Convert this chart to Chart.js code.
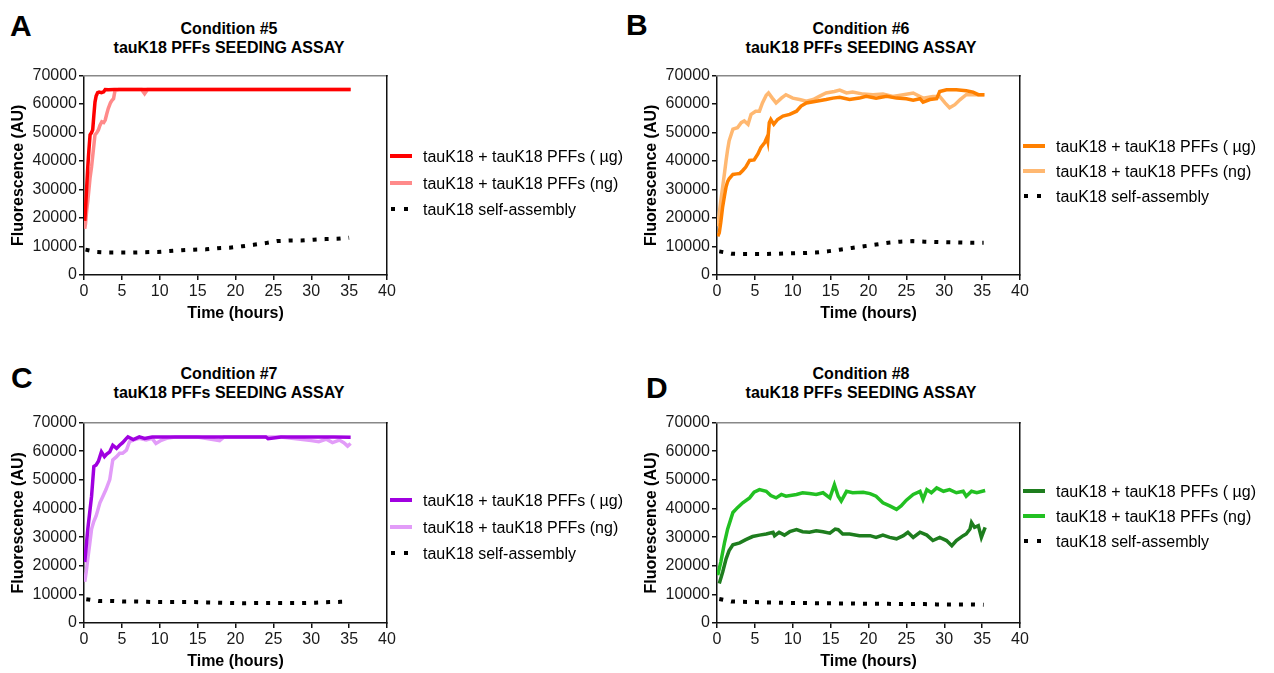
<!DOCTYPE html>
<html><head><meta charset="utf-8">
<script src="https://cdn.jsdelivr.net/npm/chart.js@4.4.1/dist/chart.umd.min.js"></script>
<style>
html,body{margin:0;padding:0;background:#fff;overflow:hidden;width:1274px;height:673px;font-family:"Liberation Sans",Arial,sans-serif;color:#000;}
canvas{position:absolute;}
.letter{position:absolute;font-weight:bold;font-size:30px;line-height:30px;}
.title{position:absolute;width:400px;text-align:center;font-weight:bold;font-size:16px;line-height:19px;}
.row{position:absolute;height:1px;white-space:nowrap;}
.sw{position:absolute;width:22px;height:4px;top:-2px;left:0;}
.dot{position:absolute;width:4px;height:4px;top:-2px;background:#000;}
.txt{position:absolute;left:33px;top:-9.5px;font-size:16px;line-height:20px;}
</style></head>
<body>
<canvas id="cA" width="399" height="259" style="left:0px;top:64px"></canvas>
<canvas id="cB" width="399" height="259" style="left:633px;top:64px"></canvas>
<canvas id="cC" width="399" height="260" style="left:0px;top:411px"></canvas>
<canvas id="cD" width="399" height="260" style="left:633px;top:411px"></canvas>
<div id="overlay"></div>
<script>
// ---------- data ----------
const panelLetters = ['A','B','C','D'];
const conditionTitles = ['Condition #5','Condition #6','Condition #7','Condition #8'];
const assayTitle = 'tauK18 PFFs SEEDING ASSAY';
const seriesLabels = ['tauK18 + tauK18 PFFs ( \u00b5g)','tauK18 + tauK18 PFFs (ng)','tauK18 self-assembly'];
const xTitle = 'Time (hours)';
const yTitle = 'Fluorescence (AU)';

// Panel A (Condition #5)
const tA_ug = [0.1,0.2,0.35,0.5,0.65,0.8,1.0,1.15,1.3,1.45,1.6,1.8,2.0,2.3,2.6,2.8,3.2,4,6,8,10,15,20,25,30,35.2];
const vA_ug = [19000,23000,30700,38000,44000,49200,50000,51000,56000,60700,62800,64000,64200,64000,64300,65100,65000,65100,65100,65100,65100,65100,65100,65100,65100,65100];
const tA_ng = [0.1,0.2,0.35,0.5,0.65,0.8,1.0,1.2,1.45,1.7,1.9,2.1,2.35,2.6,2.8,3.0,3.2,3.5,3.7,3.9,4.1,4.6,6,7.6,8.0,8.4,10,15,20,25,30,35.2];
const vA_ng = [16200,18000,22500,26000,30000,34100,38000,43000,49200,50000,50900,52500,53800,53500,54400,56500,58400,60500,61300,61900,64800,65100,65100,65100,63600,65100,65100,65100,65100,65100,65100,65100];
const tA_bk = [0.2,1.7,3.2,5,6.5,8,9.7,11.3,12.9,14.5,16.1,17.6,19.2,20.9,22.4,24,25.5,27.2,28.7,30.3,31.9,33.4,35];
const vA_bk = [8900,8100,7900,7900,7900,8000,8100,8400,8700,8900,9000,9400,9600,10100,10600,11200,11900,12100,12100,12400,12600,12700,13100];

// Panel B (Condition #6)
const tB_ug = [0.1,0.3,0.5,0.75,1.0,1.2,1.4,1.6,2.1,2.6,3.0,3.4,3.8,4.3,4.9,5.4,5.8,6.3,6.6,6.7,6.9,7.1,7.5,8.0,8.7,9.6,10.5,11.1,11.8,13.1,14.4,15.3,16.2,17.5,18.8,19.7,21.0,22.4,23.7,25.0,25.9,26.8,27.2,28.1,29.0,29.4,30.3,31.6,32.9,33.8,34.5,35.3];
const vB_ug = [13600,14800,18500,24000,28000,31000,32800,33800,35300,35500,35600,36700,37900,40200,40400,42500,44800,46500,48300,47100,53500,54600,52900,54600,55800,56400,57500,59300,60400,61000,61600,62100,62400,61600,62100,62700,62100,62700,62100,61900,61400,61900,60700,61600,61900,64400,65000,65000,64700,64200,63300,63300];
const tB_ng = [0.1,0.3,0.5,0.75,1.0,1.2,1.4,1.6,2.1,2.7,3.2,3.6,4.1,4.5,5.1,5.6,6.0,6.5,6.8,7.3,7.8,8.5,9.1,10.0,10.9,11.8,12.7,13.5,14.4,15.5,16.2,17.1,17.9,19.3,20.6,21.9,23.2,24.6,25.9,27.2,28.5,29.4,30.1,30.7,31.4,32.1,32.9,34.3,35.3];
const vB_ng = [17100,21700,26000,31000,36000,40200,44000,47100,51200,51700,53500,54100,52900,56400,57500,57500,60400,63100,63900,62100,60400,62100,63300,62100,61600,61000,61600,62700,63900,64400,64900,63900,64200,63500,63300,63500,62700,63300,63900,62100,62700,62700,60400,58700,59800,61600,63300,63300,63300];
const tB_bk = [0.3,1.9,3.4,5,6.6,8.2,9.8,11.4,13,14.6,16.2,17.8,19.4,21,22.6,24.2,25.8,27.4,29,30.6,32.2,33.8,35.2];
const vB_bk = [8300,7500,7400,7400,7400,7500,7600,7700,7900,8300,8900,9500,10100,10700,11300,11700,11900,11700,11600,11500,11400,11300,11300];

// Panel C (Condition #7)
const tC_ug = [0.1,0.3,0.5,0.75,1.0,1.3,1.6,1.9,2.1,2.3,2.7,3.0,3.4,3.8,4.3,4.7,5.1,5.6,5.8,6.5,7.3,8.0,9,10,12,15,18,20,24,24.3,26,30,33,35.2];
const vC_ug = [21300,27000,32800,38500,44300,54700,55200,56500,58100,59800,58100,59000,59800,62100,61000,62100,63000,64500,65000,64100,65000,64500,65000,65000,65000,65000,65000,65000,65000,64400,65000,65000,65000,64900];
const tC_ng = [0.1,0.3,0.5,0.75,1.0,1.3,1.6,2.1,2.5,2.9,3.4,3.8,4.3,4.7,5.1,5.6,6.0,6.5,7.3,8.2,9.0,9.5,10.2,10.9,12,15,17.9,18.5,22,26,30,31,32,32.8,33.7,34.3,34.8,35.2];
const vC_ng = [14400,18000,22400,27500,32800,35500,37400,42000,44300,46600,50100,57000,58100,59300,59300,60400,63300,63900,64500,63900,64500,62700,63800,64500,65000,65000,63700,65000,65000,65000,63700,63300,64200,63000,63900,63000,61800,62700];
const tC_bk = [0.3,1.9,3.6,5.1,6.7,8.3,9.9,11.5,13,14.6,16.2,17.8,19.4,21,22.7,24.3,25.9,27.5,29,30.6,32.4,33.9,35.1];
const vC_bk = [8300,7700,7700,7500,7500,7400,7300,7300,7300,7300,7200,7100,7000,6900,7000,7000,7000,7000,7000,7100,7300,7400,7500];

// Panel D (Condition #8)
const tD_ug = [0.3,0.75,1.2,1.6,2.1,3.0,3.8,4.7,5.6,6.5,7.4,7.6,8.2,8.9,9.6,10.5,11.3,12.2,13.1,14.0,14.9,15.6,16.0,16.6,17.5,18.8,20.2,21.0,21.9,22.8,23.7,24.6,25.2,25.9,26.8,27.7,28.5,29.4,30.3,31.0,31.6,32.5,32.9,33.4,33.6,34.0,34.5,34.9,35.4];
const vD_ug = [13800,17800,22400,25300,27300,28000,29100,30200,30700,31100,31700,30500,31700,30700,31900,32600,31900,31700,32200,31900,31400,32800,32600,31100,31100,30500,30500,29900,30700,29900,29400,30500,31700,29900,31700,30700,28800,29900,28800,27000,28800,30500,31100,32800,35100,33400,34000,29900,33400];
const tD_ng = [0.1,0.5,1.0,1.4,2.1,2.7,3.4,4.3,4.9,5.6,6.5,7.1,7.8,8.5,9.1,10.5,11.3,12.2,13.1,14.0,14.9,15.5,16.0,16.4,17.1,17.9,19.3,20.2,21.0,21.9,22.8,23.7,24.3,25.0,25.9,26.8,27.2,27.7,28.3,29.0,29.9,30.7,31.6,32.5,32.9,33.6,34.3,35.4];
const vD_ng = [16700,21300,28200,32800,38600,40300,42000,43700,45700,46600,46000,44500,43700,44900,44300,44900,45500,45200,44900,45500,43700,48300,44300,42600,46000,45500,45700,45200,44300,42000,40900,39700,40900,42900,44900,46000,43200,46600,45500,47200,46000,46600,45500,46000,44300,46000,45500,46300];
const tD_bk = [0.3,1.9,3.4,5,6.6,8.2,9.8,11.4,13,14.6,16.2,17.8,19.4,21,22.6,24.2,25.8,27.4,29,30.6,32.2,33.8,35.2];
const vD_bk = [8400,7500,7400,7300,7200,7100,7000,7000,6900,6900,6800,6800,6700,6700,6700,6600,6600,6600,6500,6500,6500,6500,6400];

const xTicks = [0,5,10,15,20,25,30,35,40];
const yTicks = [0,10000,20000,30000,40000,50000,60000,70000];

const colorsA = ['#ff0000','#ff8a8a','#000000'];
const colorsB = ['#ff8000','#ffb871','#000000'];
const colorsC = ['#a000e0','#e29cf8','#000000'];
const colorsD = ['#1e7d1e','#22c022','#000000'];

// ---------- drawing ----------
const FONT = '"Liberation Sans", Arial, sans-serif';
Chart.defaults.font.family = FONT;

function pts(t, v) {
  const n = Math.min(t.length, v.length);
  const out = [];
  for (let i = 0; i < n; i++) out.push({x: t[i], y: v[i]});
  return out;
}

function makeChart(id, series, colors) {
  const datasets = series.map((s, i) => ({
    label: seriesLabels[i],
    data: pts(s[0], s[1]),
    borderColor: colors[i],
    backgroundColor: colors[i],
    borderWidth: i === 2 ? 4 : 3.5,
    borderDash: i === 2 ? [4, 8] : [],
    borderCapStyle: 'butt',
    borderJoinStyle: 'miter',
    pointRadius: 0,
    tension: 0,
    fill: false
  }));
  new Chart(document.getElementById(id), {
    type: 'line',
    data: {datasets},
    options: {
      responsive: false,
      animation: false,
      events: [],
      layout: {padding: {left: 5, top: 10, right: 12, bottom: 0}},
      plugins: {legend: {display: false}, title: {display: false}, tooltip: {enabled: false}},
      scales: {
        x: {
          type: 'linear', position: 'bottom', min: xTicks[0], max: xTicks[xTicks.length - 1],
          afterBuildTicks: a => { a.ticks = xTicks.map(v => ({value: v})); },
          ticks: {font: {size: 16}, color: '#1a1a1a', padding: 2, maxRotation: 0, autoSkip: false},
          grid: {drawOnChartArea: false, drawTicks: true, tickLength: 5, color: '#111', lineWidth: 1.5},
          border: {display: true, color: '#111', width: 1.5},
          title: {display: true, text: xTitle, font: {size: 16, weight: 'bold'}, color: '#000', padding: {top: 0, bottom: 0}},
          afterFit: a => { a.height = 48; }
        },
        y: {
          type: 'linear', position: 'left', min: yTicks[0], max: yTicks[yTicks.length - 1],
          afterBuildTicks: a => { a.ticks = yTicks.map(v => ({value: v})); },
          ticks: {font: {size: 16}, color: '#1a1a1a', padding: 2, callback: v => String(v)},
          grid: {drawOnChartArea: false, drawTicks: true, tickLength: 5, color: '#111', lineWidth: 1.5},
          border: {display: true, color: '#111', width: 1.5},
          title: {display: true, text: yTitle, font: {size: 16, weight: 'bold'}, color: '#000', padding: {top: 4, bottom: 4}},
          afterFit: a => { a.width = 79; }
        },
        x2: {
          type: 'linear', position: 'top', min: 0, max: 40,
          ticks: {display: false}, grid: {display: false, drawTicks: false},
          border: {display: true, color: '#888', width: 1.5},
          afterFit: a => { a.height = 0; }
        },
        y2: {
          type: 'linear', position: 'right', min: 0, max: 1,
          ticks: {display: false}, grid: {display: false, drawTicks: false},
          border: {display: true, color: '#111', width: 1.5},
          afterFit: a => { a.width = 0; }
        }
      }
    }
  });
}

makeChart('cA', [[tA_ug, vA_ug], [tA_ng, vA_ng], [tA_bk, vA_bk]], colorsA);
makeChart('cB', [[tB_ug, vB_ug], [tB_ng, vB_ng], [tB_bk, vB_bk]], colorsB);
makeChart('cC', [[tC_ug, vC_ug], [tC_ng, vC_ng], [tC_bk, vC_bk]], colorsC);
makeChart('cD', [[tD_ug, vD_ug], [tD_ng, vD_ng], [tD_bk, vD_bk]], colorsD);

// ---------- titles, letters, legends (HTML) ----------
const panelLayout = [
  {letter: [10, 11],  titleCx: 229, titleTop: 19,  legX: 390,  legRows: [156, 183, 209], colors: colorsA},
  {letter: [626, 10], titleCx: 861, titleTop: 19,  legX: 1023, legRows: [146, 171, 196], colors: colorsB},
  {letter: [11, 363], titleCx: 229, titleTop: 364, legX: 390,  legRows: [500, 527, 553], colors: colorsC},
  {letter: [646, 373],titleCx: 861, titleTop: 364, legX: 1023, legRows: [491, 516, 541], colors: colorsD}
];
const ov = document.getElementById('overlay');
panelLayout.forEach((p, k) => {
  const L = document.createElement('div');
  L.className = 'letter'; L.textContent = panelLetters[k];
  L.style.left = p.letter[0] + 'px'; L.style.top = p.letter[1] + 'px';
  ov.appendChild(L);
  const T = document.createElement('div');
  T.className = 'title';
  T.style.left = (p.titleCx - 200) + 'px'; T.style.top = p.titleTop + 'px';
  T.innerHTML = conditionTitles[k] + '<br>' + assayTitle;
  ov.appendChild(T);
  p.legRows.forEach((y, i) => {
    const r = document.createElement('div');
    r.className = 'row';
    r.style.left = p.legX + 'px'; r.style.top = y + 'px';
    if (i < 2) {
      const s = document.createElement('div');
      s.className = 'sw'; s.style.background = p.colors[i];
      r.appendChild(s);
    } else {
      [1, 14].forEach(dx => {
        const d = document.createElement('div');
        d.className = 'dot'; d.style.left = dx + 'px';
        r.appendChild(d);
      });
    }
    const tx = document.createElement('div');
    tx.className = 'txt'; tx.textContent = seriesLabels[i];
    r.appendChild(tx);
    ov.appendChild(r);
  });
});
</script>
</body></html>
